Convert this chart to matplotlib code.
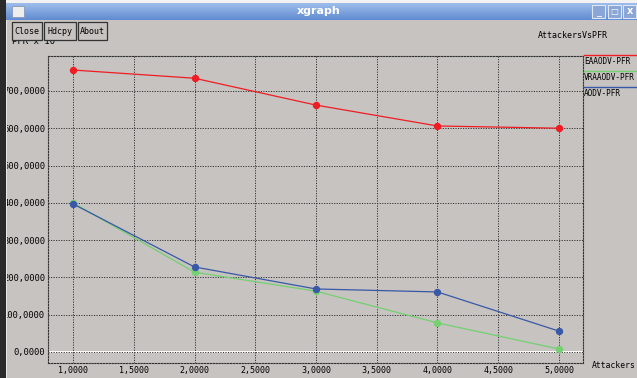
# xgraph style plot of PFR against number of attackers
import numpy as np
import matplotlib.pyplot as plt
from matplotlib.patches import Rectangle
from matplotlib.lines import Line2D

attackers = [1, 2, 3, 4, 5]
eaaodv_pfr = [756, 734, 662, 606, 600]
vraaodv_pfr = [400, 214, 163, 78, 8]
aodv_pfr = [397, 228, 169, 161, 56]

series_names = ['EAAODV-PFR', 'VRAAODV-PFR', 'AODV-PFR']
series_colors = ['#f01c24', '#74d070', '#3a58a8']

xticks = [1.0, 1.5, 2.0, 2.5, 3.0, 3.5, 4.0, 4.5, 5.0]
yticks = [0, 100, 200, 300, 400, 500, 600, 700]

W, H = 637, 378
BG = '#c6c3c0'
MONO = 'DejaVu Sans Mono'
FS = 6.0


def fx(px):
    return px / W


def fy(py):
    return 1 - py / H


def fmt(v):
    return ('%.4f' % v).replace('.', ',')


fig = plt.figure(figsize=(W / 100, H / 100), dpi=100)
fig.patch.set_facecolor(BG)

# plot area
ax = fig.add_axes([fx(48), fy(363), fx(583) - fx(48), fy(56) - fy(363)])
ax.set_facecolor(BG)
ax.set_xlim(0.794, 5.198)
ax.set_ylim(-29.5, 793.6)

ax.axhline(0, color='white', lw=1.3, zorder=1)
for xs, ys, c in zip([attackers] * 3, [eaaodv_pfr, vraaodv_pfr, aodv_pfr], series_colors):
    ax.plot(xs, ys, color=c, lw=0.9, marker='o', ms=4.3, zorder=3)

ax.set_xticks(xticks)
ax.set_xticklabels([fmt(v) for v in xticks], family=MONO, fontsize=FS)
ax.set_yticks(yticks)
ax.set_yticklabels([fmt(v) for v in yticks], family=MONO, fontsize=6.3)
ax.tick_params(length=0, pad=2)
ax.grid(True, color='#333333', ls=(0, (1.2, 1.4)), lw=0.7)
for s in ax.spines.values():
    s.set_color('#333333')
    s.set_linestyle((0, (1.2, 1.4)))
    s.set_linewidth(0.8)

# legend at the right of the plot
for i, (name, c) in enumerate(zip(series_names, series_colors)):
    ly = 55 + i * 16
    fig.add_artist(Line2D([fx(584), fx(637)], [fy(ly), fy(ly)], color=c, lw=1.0))
    fig.text(fx(584), fy(ly + 6), name, family=MONO, fontsize=5.6, va='center', ha='left')

fig.text(fx(538), fy(35), 'AttackersVsPFR', family=MONO, fontsize=FS, va='center')
fig.text(fx(592), fy(365), 'Attackers', family=MONO, fontsize=5.8, va='center')
fig.text(fx(12), fy(42), 'PFR x 10', family=MONO, fontsize=6.5, va='center')
fig.text(fx(57), fy(38), '-3', family=MONO, fontsize=4.5, va='center')

# buttons
for bx, bw, label in [(12, 30, 'Close'), (44, 32, 'Hdcpy'), (78, 29, 'About')]:
    fig.add_artist(Rectangle((fx(bx), fy(40)), fx(bw), fy(22) - fy(40),
                             transform=fig.transFigure, facecolor=BG,
                             edgecolor='#333333', lw=0.9, zorder=5))
    fig.text(fx(bx + bw / 2), fy(31), label, family=MONO, fontsize=FS,
             ha='center', va='center', zorder=6)

# title bar
tb = fig.add_axes([0, fy(20), 1, fy(3) - fy(20)], zorder=6)
grad = np.linspace(0, 1, 30)[:, None, None]
top = np.array([0.62, 0.74, 0.92])
bot = np.array([0.38, 0.55, 0.82])
tb.imshow(top + (bot - top) * grad * np.ones((1, 10, 3)), aspect='auto', extent=[0, 1, 0, 1])
tb.set_xlim(0, 1)
tb.set_ylim(0, 1)
tb.axis('off')
tb.text(0.5, 0.5, 'xgraph', color='white', fontsize=8, fontweight='bold',
        ha='center', va='center')
tb.add_patch(Rectangle((12 / W, 0.2), 12 / W, 0.6, facecolor='#eeeeee',
                       edgecolor='#8899bb', lw=0.6))
for bx in [592, 608, 623]:
    tb.add_patch(Rectangle((bx / W, 0.12), 13 / W, 0.76, facecolor='#8aa6d6',
                           edgecolor='#dde6f4', lw=0.8))
tb.text(598.5 / W, 0.45, '_', color='white', fontsize=7, ha='center', va='center')
tb.text(614.5 / W, 0.5, '□', color='white', fontsize=6, ha='center', va='center')
tb.text(629.5 / W, 0.5, 'x', color='white', fontsize=7, fontweight='bold', ha='center', va='center')

# window frame
fig.add_artist(Rectangle((0, fy(3)), 1, fy(0) - fy(3), transform=fig.transFigure,
                         facecolor='#f2f2f2', edgecolor='none', zorder=7))
fig.add_artist(Rectangle((0, 0), fx(6), 1, transform=fig.transFigure,
                         facecolor='#2a2a2a', edgecolor='none', zorder=7))
fig.add_artist(Rectangle((fx(6), 0), fx(1.5), fy(20), transform=fig.transFigure,
                         facecolor='#e8e8e8', edgecolor='none', zorder=7))

fig.savefig('out.png', dpi=100, facecolor=fig.get_facecolor())
